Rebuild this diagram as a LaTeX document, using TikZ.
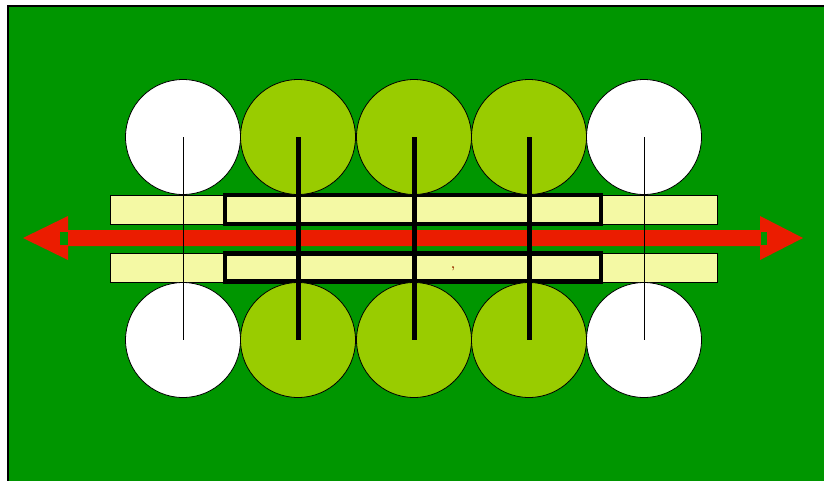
\documentclass[tikz,border=0pt]{standalone}
\usepackage{tikz}
\usetikzlibrary{arrows,shapes,positioning}
\definecolor{field}{RGB}{0,150,0}
\definecolor{rollgreen}{RGB}{153,204,0}
\definecolor{strip}{RGB}{244,249,164}
\definecolor{arrowred}{RGB}{235,28,0}
\definecolor{commared}{RGB}{153,51,0}

\begin{document}
\begin{tikzpicture}[x=0.75pt,y=-0.75pt]
                    \tikzstyle{every node}+=[inner sep=0pt]
                    \useasboundingbox (0,0) rectangle (824,480);
                    \clip (0,0) rectangle (824,480);
                    \fill [field] (8,6) rectangle (840,500);
                    \draw [black, line width=0.8pt] (8,6) rectangle (840,500);
                    % strips
                    \fill [strip] (110,195) rectangle (717,224);
                    \draw [black, line width=0.6pt] (110,195) rectangle (717,224);
                    \fill [strip] (110,253) rectangle (717,282);
                    \draw [black, line width=0.6pt] (110,253) rectangle (717,282);
                    % arrow
                    \fill [arrowred] (23,238) -- (68,216) -- (68,230) -- (760,230) -- (760,216) -- (803,238)
                        -- (760,260) -- (760,246) -- (68,246) -- (68,260) -- cycle;
                    \fill [field] (60,232) rectangle (67.5,245);
                    \fill [field] (761,232) rectangle (767,245);
                    % frames
                    \draw [black, line width=3.4pt] (225,195) rectangle (601,224);
                    \draw [black, line width=3.4pt] (225,253.5) rectangle (601,281.5);
                    % rolls
                    \foreach \x in {183,644} {
                        \fill [white] (\x,137) circle (57.5);
                        \draw [black, line width=0.6pt] (\x,137) circle (57.5);
                        \fill [white] (\x,340) circle (57.5);
                        \draw [black, line width=0.6pt] (\x,340) circle (57.5);
                    }
                    \foreach \x in {298,414,529} {
                        \fill [rollgreen] (\x,137) circle (57.5);
                        \draw [black, line width=0.6pt] (\x,137) circle (57.5);
                        \fill [rollgreen] (\x,340) circle (57.5);
                        \draw [black, line width=0.6pt] (\x,340) circle (57.5);
                    }
                    % axes
                    \draw [black, line width=0.7pt] (183,137) -- (183,340);
                    \draw [black, line width=0.7pt] (644,137) -- (644,340);
                    \foreach \x in {298,414,529}
                        \draw [black, line width=3.75pt] (\x,137) -- (\x,340);
                    \node (comma) at (453,269) [text=commared, font=\bfseries\small] {,};
                \end{tikzpicture}
\end{document}
